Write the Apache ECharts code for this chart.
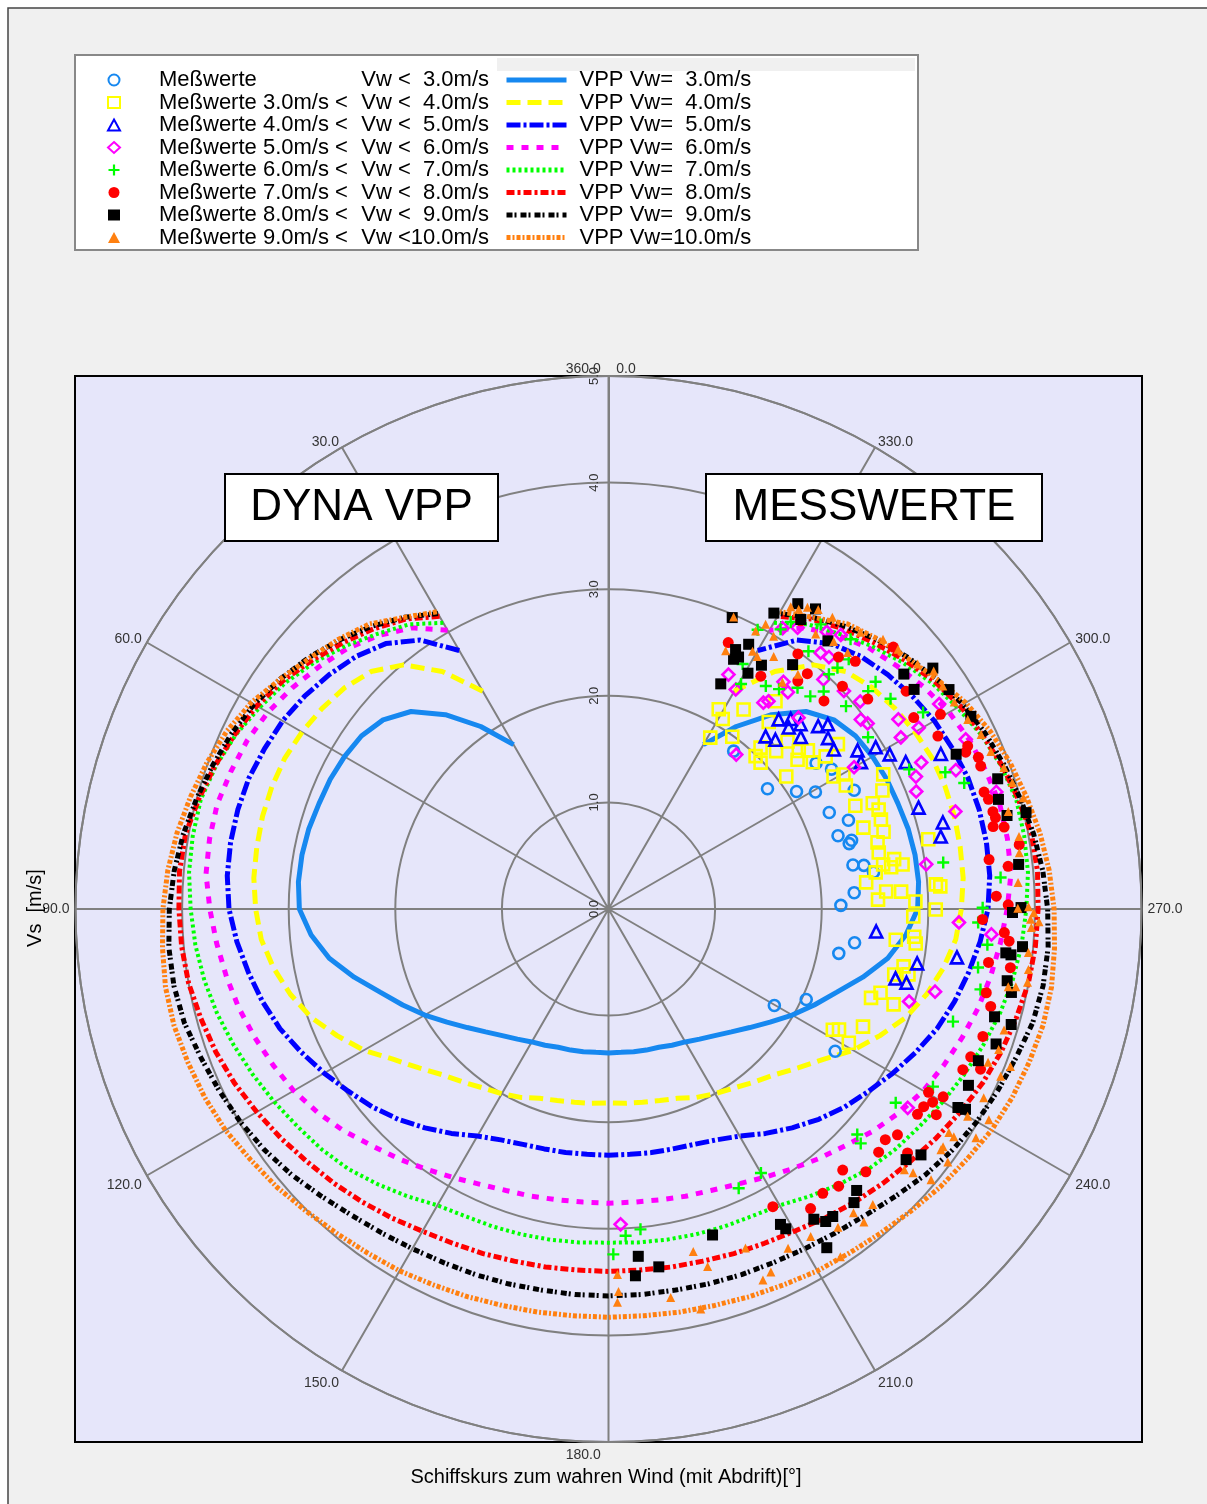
<!DOCTYPE html>
<html>
<head>
<meta charset="utf-8">
<title>Polardiagramm DYNA VPP / Messwerte</title>
<script src="https://cdn.jsdelivr.net/npm/echarts@6/dist/echarts.min.js"></script>
<style>
  html, body { margin: 0; padding: 0; background: #fff; }
  #chart { width: 1207px; height: 1504px; }
</style>
</head>
<body>
<div id="chart"></div>
<script>
// Polar plot: boat speed Vs [m/s] over true wind angle [deg]
var chart = echarts.init(document.getElementById('chart'));
var FONT = '"Liberation Sans", Arial, sans-serif';

// angle ticks / radius ticks
var angleTicks = [0, 30, 60, 90, 120, 150, 180, 210, 240, 270, 300, 330, 360];
var radiusTicks = [0, 1, 2, 3, 4, 5];

// VPP curves, sampled every 5 deg from 30 to 330 deg
var angles = [30,35,40,45,50,55,60,65,70,75,80,85,90,95,100,105,110,115,120,125,130,135,140,145,150,155,160,165,170,175,180,
  185,190,195,200,205,210,215,220,225,230,235,240,245,250,255,260,265,270,275,280,285,290,295,300,305,310,315,320,325,330];

var vpp3 = [1.78,2.09,2.38,2.62,2.76,2.83,2.86,2.88,2.89,2.91,2.92,2.92,2.90,2.80,2.66,2.47,2.28,2.13,1.99,1.85,1.73,1.63,1.55,1.49,1.44,1.41,1.38,1.37,1.36,1.35,1.35,
  1.35,1.36,1.37,1.38,1.41,1.44,1.49,1.55,1.63,1.73,1.85,1.99,2.13,2.28,2.47,2.66,2.80,2.90,2.92,2.92,2.91,2.89,2.88,2.86,2.83,2.76,2.62,2.38,2.09,1.78];
var vpp4 = [2.36,2.72,2.99,3.15,3.23,3.28,3.32,3.35,3.36,3.36,3.35,3.34,3.31,3.27,3.19,3.09,2.97,2.81,2.65,2.46,2.32,2.20,2.12,2.05,2.00,1.95,1.89,1.86,1.84,1.83,1.82,
  1.83,1.84,1.86,1.89,1.95,2.00,2.05,2.12,2.20,2.32,2.46,2.65,2.81,2.97,3.09,3.19,3.27,3.31,3.34,3.35,3.36,3.36,3.35,3.32,3.28,3.23,3.15,2.99,2.72,2.36];
var vpp5 = [2.80,3.08,3.25,3.35,3.42,3.48,3.53,3.56,3.59,3.60,3.60,3.59,3.56,3.50,3.43,3.36,3.28,3.18,3.08,2.98,2.89,2.79,2.68,2.57,2.46,2.39,2.35,2.33,2.32,2.31,2.31,
  2.31,2.32,2.33,2.35,2.39,2.46,2.57,2.68,2.79,2.89,2.98,3.08,3.18,3.28,3.36,3.43,3.50,3.56,3.59,3.60,3.60,3.59,3.56,3.53,3.48,3.42,3.35,3.25,3.08,2.80];
var vpp6 = [3.02,3.22,3.35,3.46,3.54,3.62,3.69,3.74,3.77,3.80,3.80,3.79,3.74,3.69,3.64,3.59,3.53,3.47,3.41,3.33,3.24,3.14,3.06,2.98,2.91,2.85,2.81,2.79,2.77,2.76,2.76,
  2.76,2.77,2.79,2.81,2.85,2.91,2.98,3.06,3.14,3.24,3.33,3.41,3.47,3.53,3.59,3.64,3.69,3.74,3.79,3.80,3.80,3.77,3.74,3.69,3.62,3.54,3.46,3.35,3.22,3.02];
var vpp7 = [3.10,3.26,3.37,3.49,3.60,3.70,3.78,3.86,3.92,3.96,3.96,3.95,3.92,3.89,3.85,3.80,3.74,3.68,3.62,3.56,3.51,3.45,3.37,3.29,3.21,3.18,3.17,3.16,3.15,3.14,3.13,
  3.14,3.15,3.16,3.17,3.18,3.21,3.29,3.37,3.45,3.51,3.56,3.62,3.68,3.74,3.80,3.85,3.89,3.92,3.95,3.96,3.96,3.92,3.86,3.78,3.70,3.60,3.49,3.37,3.26,3.10];
var vpp8 = [3.17,3.32,3.43,3.53,3.63,3.73,3.81,3.87,3.93,3.98,4.03,4.04,4.03,4.02,4.00,3.96,3.92,3.87,3.81,3.75,3.69,3.64,3.59,3.54,3.49,3.46,3.44,3.42,3.41,3.40,3.40,
  3.40,3.41,3.42,3.44,3.46,3.49,3.54,3.59,3.64,3.69,3.75,3.81,3.87,3.92,3.96,4.00,4.02,4.03,4.04,4.03,3.98,3.93,3.87,3.81,3.73,3.63,3.53,3.43,3.32,3.17];
var vpp9 = [3.20,3.34,3.46,3.57,3.67,3.76,3.84,3.90,3.95,4.00,4.05,4.09,4.12,4.14,4.14,4.12,4.07,4.03,3.99,3.94,3.88,3.81,3.75,3.71,3.68,3.66,3.65,3.64,3.63,3.63,3.63,
  3.63,3.63,3.64,3.65,3.66,3.68,3.71,3.75,3.81,3.88,3.94,3.99,4.03,4.07,4.12,4.14,4.14,4.12,4.09,4.05,4.00,3.95,3.90,3.84,3.76,3.67,3.57,3.46,3.34,3.20];
var vpp10 = [3.22,3.34,3.49,3.58,3.66,3.76,3.87,3.95,4.01,4.06,4.11,4.15,4.18,4.20,4.22,4.22,4.20,4.18,4.15,4.10,4.06,4.01,3.97,3.94,3.92,3.89,3.87,3.85,3.84,3.83,3.83,
  3.83,3.84,3.85,3.87,3.89,3.92,3.94,3.97,4.01,4.06,4.10,4.15,4.18,4.20,4.22,4.22,4.20,4.18,4.15,4.11,4.06,4.01,3.95,3.87,3.76,3.66,3.58,3.49,3.34,3.22];

// measured points [Vs m/s, angle deg]
var meas3 = [[1.89,321.6],[1.87,307.1],[2.08,302.0],[2.23,299.5],[2.38,305.1],[2.47,302.1],[2.56,295.8],[2.26,293.6],[2.40,290.3],[2.26,287.7],[2.37,285.8],
  [2.34,285.2],[2.33,280.2],[2.43,279.7],[2.51,277.9],[2.31,273.8],[2.18,270.9],[2.33,262.2],[2.20,259.1],[1.80,239.8],[2.04,245.4],[2.51,237.9]];
var meas4 = [[2.14,331.1],[2.08,329.0],[2.26,325.9],[1.87,329.3],[1.99,324.3],[2.50,321.2],[2.31,319.4],[2.30,313.1],[2.08,316.7],[1.99,316.1],[1.98,313.9],
  [2.16,313.3],[2.32,309.7],[2.39,308.5],[2.26,308.3],[2.08,306.7],[2.36,305.7],[2.49,305.1],[2.65,305.7],[2.45,300.5],[2.54,299.8],[2.51,297.5],[2.51,292.7],
  [2.67,291.8],[2.70,290.2],[2.69,288.2],[2.87,296.1],[2.80,293.4],[2.51,287.7],[2.68,285.7],[2.60,283.9],[2.59,281.8],[2.61,279.2],[2.72,279.9],[2.79,278.6],
  [2.53,277.8],[2.68,278.4],[2.43,275.9],[2.61,273.6],[2.75,273.4],[2.53,272.0],[3.07,282.3],[3.08,274.3],[3.12,273.9],[3.07,269.9],[2.88,271.4],[2.86,268.6],
  [2.71,263.9],[2.88,264.8],[2.90,263.6],[2.82,259.0],[2.75,257.1],[2.88,257.7],[2.60,251.3],[2.67,252.9],[2.82,251.5],[2.39,241.7],[2.44,242.4],[2.63,245.2],[2.58,240.9]];
var meas5 = [[2.39,318.1],[2.47,316.2],[2.50,313.9],[2.40,315.2],[2.61,311.1],[2.69,310.1],[2.19,317.7],[2.23,315.4],[2.42,311.8],[2.61,307.9],[2.59,305.3],
  [2.77,302.5],[2.93,301.2],[3.01,298.8],[2.74,300.2],[3.11,296.3],[3.44,295.0],[3.06,288.1],[3.24,284.5],[3.19,282.3],[2.52,265.2],[2.94,260.0],[3.30,262.1],
  [2.77,256.4],[2.88,256.1]];
var meas6 = [[3.10,328.2],[3.18,326.1],[3.31,321.8],[3.37,319.7],[2.47,332.9],[2.38,329.9],[2.42,323.1],[2.46,322.4],[2.64,320.4],[2.69,322.4],[3.12,320.4],
  [3.14,318.8],[2.95,316.9],[3.01,312.8],[3.06,309.5],[2.53,315.2],[2.96,306.9],[2.99,305.6],[3.18,300.4],[3.37,300.3],[2.66,300.0],[3.14,293.3],[3.24,295.1],
  [3.09,290.9],[3.51,291.8],[1.88,320.4],[3.38,285.7],[3.01,278.0],[3.29,267.8],[3.60,266.2],[3.16,255.8],[2.95,252.9],[3.37,236.4],[2.96,182.2],[3.65,301.8],
  [3.71,295.4],[3.80,286.8],[3.25,303.2]];
var meas7 = [[2.62,331.3],[2.56,324.8],[2.61,322.2],[2.73,319.5],[2.75,316.5],[2.87,315.3],[2.93,310.5],[3.12,316.5],[3.06,322.2],[3.19,327.6],[3.08,328.4],
  [2.97,331.9],[2.45,329.5],[3.02,316.8],[3.25,316.1],[3.18,310.0],[3.29,310.4],[3.30,306.7],[2.92,303.5],[3.11,294.9],[3.41,292.1],[3.54,289.5],[3.48,302.0],
  [3.17,277.9],[3.69,274.6],[3.51,270.2],[3.47,267.9],[3.51,261.0],[3.57,257.8],[3.40,251.9],[3.47,241.3],[3.25,236.0],[3.15,227.8],[3.23,227.1],[2.86,210.0],
  [2.89,205.0],[3.02,185.7],[3.07,183.0],[3.24,180.8],[3.57,264.6],[3.33,323.3],[3.40,318.1]];
var meas8 = [[2.74,335.8],[2.98,323.4],[2.78,320.3],[2.89,319.8],[3.20,317.6],[3.28,315.1],[3.03,313.6],[2.81,314.0],[3.13,309.0],[2.61,326.8],[3.25,326.3],
  [3.63,312.6],[3.46,306.2],[3.38,302.1],[3.49,297.7],[3.61,300.4],[3.70,294.4],[3.75,292.3],[3.74,291.0],[3.69,287.3],[3.71,286.1],[3.72,284.2],[3.73,283.3],
  [3.69,282.1],[3.79,281.7],[3.90,278.9],[3.60,277.4],[3.77,276.1],[3.64,271.9],[3.75,270.6],[3.51,268.4],[3.72,266.6],[3.77,265.4],[3.60,262.0],[3.81,261.7],
  [3.63,257.5],[3.70,255.7],[3.71,251.2],[3.67,247.8],[3.80,246.7],[3.65,245.6],[3.46,240.2],[3.54,239.2],[3.49,237.9],[3.48,236.4],[3.63,237.9],[3.60,240.7],
  [3.44,232.0],[3.38,230.2],[3.41,228.0],[3.62,230.8],[3.45,224.4],[3.29,221.9],[3.38,219.7],[3.34,217.0],[3.39,214.0],[3.19,208.9],[3.66,293.7]];
var meas9 = [[3.37,328.2],[3.18,330.8],[2.97,337.0],[2.71,333.9],[2.62,333.4],[2.66,332.7],[2.81,332.1],[2.36,333.5],[2.57,329.4],[2.70,327.9],[2.87,323.0],
  [3.42,325.4],[3.25,320.7],[3.26,326.4],[3.79,306.6],[3.80,302.8],[3.85,298.0],[3.57,294.0],[3.85,288.5],[3.80,285.7],[3.84,283.2],[4.02,283.0],[3.53,305.7],
  [3.54,308.5],[3.87,276.2],[3.79,269.5],[3.87,270.2],[3.75,263.7],[3.80,263.5],[3.90,264.8],[3.80,259.8],[3.86,258.3],[3.76,254.4],[3.93,254.0],[3.85,250.8],
  [3.75,247.7],[3.76,243.9],[3.77,240.4],[3.84,240.7],[3.65,229.9],[3.73,231.8],[3.52,221.4],[3.59,219.9],[3.57,216.1],[3.57,214.8],[3.49,213.5],[3.78,212.8],
  [3.37,208.6],[3.43,209.0],[3.21,197.7],[3.27,184.9],[3.39,188.0],[3.45,184.2]];
var meas10 = [[2.98,336.8],[3.31,328.9],[3.33,327.6],[3.39,326.6],[3.43,325.0],[3.05,331.1],[2.95,332.1],[2.66,335.6],[2.77,330.8],[2.75,329.5],[2.99,328.8],
  [2.83,326.8],[2.68,322.5],[2.83,321.1],[3.45,322.5],[3.23,323.0],[3.28,319.9],[3.29,317.0],[3.70,308.4],[3.78,306.2],[3.77,303.7],[3.78,300.9],[3.81,297.8],
  [3.86,295.1],[3.88,292.4],[3.94,289.7],[3.97,287.4],[4.03,285.0],[3.61,314.5],[3.65,311.9],[3.51,317.7],[3.86,283.7],[3.91,280.0],[3.89,277.8],[3.85,273.7],
  [3.94,270.3],[3.99,269.5],[3.84,270.1],[3.96,268.6],[3.97,267.5],[4.04,268.3],[3.96,264.1],[3.98,261.8],[3.82,259.0],[3.89,259.2],[3.99,260.1],[3.88,253.0],
  [3.89,250.2],[3.84,248.0],[4.05,248.6],[4.00,246.9],[3.94,243.3],[4.08,241.0],[3.89,240.0],[3.82,236.7],[3.85,234.6],[3.88,236.6],[4.06,238.1],[3.85,234.1],
  [3.97,233.3],[3.70,228.6],[3.78,229.1],[3.95,230.0],[3.72,221.8],[3.66,218.9],[3.79,219.2],[3.68,215.8],[3.61,211.7],[3.60,207.9],[3.73,204.1],[3.77,202.6],
  [3.92,213.7],[3.43,202.0],[3.31,193.9],[3.48,195.5],[3.69,189.1],[3.43,181.4],[3.59,181.5],[3.69,181.3],[3.85,193.0]];

var vppNames = ['VPP Vw=  3.0m/s', 'VPP Vw=  4.0m/s', 'VPP Vw=  5.0m/s', 'VPP Vw=  6.0m/s',
  'VPP Vw=  7.0m/s', 'VPP Vw=  8.0m/s', 'VPP Vw=  9.0m/s', 'VPP Vw=10.0m/s'];
var measNames = ['Meßwerte Vw <  3.0m/s', 'Meßwerte 3.0m/s < Vw <  4.0m/s', 'Meßwerte 4.0m/s < Vw <  5.0m/s',
  'Meßwerte 5.0m/s < Vw <  6.0m/s', 'Meßwerte 6.0m/s < Vw <  7.0m/s', 'Meßwerte 7.0m/s < Vw <  8.0m/s',
  'Meßwerte 8.0m/s < Vw <  9.0m/s', 'Meßwerte 9.0m/s < Vw <10.0m/s'];

var colors = ['#1688f0', '#ffff00', '#0000ff', '#ff00ff', '#00ff00', '#ff0000', '#000000', '#ff8010'];

// line styles of the VPP curves
var vppDash = ['solid', [14, 7], [14, 3, 3, 3], [7, 8], [3, 3], [8, 3, 3, 3], [6, 2, 2, 4], [4, 2, 2, 2]];
var vppWidth = [5, 5, 5, 5, 4, 5, 5, 5];

// marker styles of the measured points
var plusPath = 'path://M4,0h2v4h4v2h-4v4h-2v-4h-4v-2h4z';
var measSymbols = ['circle', 'rect', 'triangle', 'diamond', plusPath, 'circle', 'rect', 'triangle'];
var measSizes = [11, 12, 12, 12, 12, 11, 11, 9];
var measFilled = [false, false, false, false, true, true, true, true];

var vppCurves = [vpp3, vpp4, vpp5, vpp6, vpp7, vpp8, vpp9, vpp10];
var measData = [meas3, meas4, meas5, meas6, meas7, meas8, meas9, meas10];

var series = [];
vppCurves.forEach(function (curve, i) {
  series.push({
    name: vppNames[i],
    type: 'line',
    coordinateSystem: 'polar',
    data: curve.map(function (r, j) { return [r, angles[j]]; }),
    symbol: 'none',
    z: 3,
    lineStyle: { color: colors[i], width: vppWidth[i], type: vppDash[i], cap: 'butt' },
    itemStyle: { color: colors[i] }
  });
});
measData.forEach(function (pts, i) {
  series.push({
    name: measNames[i],
    type: 'scatter',
    coordinateSystem: 'polar',
    data: pts,
    symbol: measSymbols[i],
    symbolSize: measSizes[i],
    z: 4,
    itemStyle: measFilled[i]
      ? { color: colors[i], opacity: 1 }
      : { color: 'rgba(0,0,0,0)', borderColor: colors[i], borderWidth: 2.6, opacity: 1 }
  });
});

// labels on the upper half of the circle are centred on their anchor
var upperAngles = [0, 30, 60, 300, 330];

var option = {
  backgroundColor: '#ffffff',
  animation: false,
  textStyle: { fontFamily: FONT },
  polar: { center: [608.5, 909], radius: 533 },
  angleAxis: {
    type: 'value',
    min: angleTicks[0],
    max: angleTicks[angleTicks.length - 1],
    interval: 30,
    startAngle: 90,
    clockwise: false,
    axisLine: { lineStyle: { color: '#808080', width: 2 } },
    axisTick: { show: false },
    splitLine: { show: true, lineStyle: { color: '#808080', width: 2 } },
    axisLabel: {
      margin: 6,
      fontSize: 14,
      color: '#333',
      fontFamily: FONT,
      formatter: function (v) {
        var txt;
        if (v === 360) return '';
        if (v === 0) txt = '360.0    0.0    ';        // 0 and 360 share the top position
        else if (v === 180) txt = '180.0             '; // sits left of the spoke
        else txt = v.toFixed(1);
        return upperAngles.indexOf(v) >= 0 ? '{u|' + txt + '}' : txt;
      },
      rich: {
        u: { lineHeight: 1, fontSize: 14, color: '#333', fontFamily: FONT }
      }
    }
  },
  radiusAxis: {
    type: 'value',
    min: radiusTicks[0],
    max: radiusTicks[radiusTicks.length - 1],
    interval: 1,
    axisLine: { show: true, lineStyle: { color: '#808080', width: 2 } },
    axisTick: { show: false },
    splitLine: { show: true, lineStyle: { color: '#808080', width: 2 } },
    axisLabel: {
      rotate: 90,
      fontSize: 13,
      color: '#333',
      fontFamily: FONT,
      formatter: function (v) { return v.toFixed(1); }
    }
  },
  legend: [{
    data: measNames,
    orient: 'vertical',
    left: 107,
    top: 69,
    padding: 0,
    itemWidth: 12,
    itemHeight: 11,
    itemGap: 0.5,
    selectedMode: false,
    formatter: function (name) {
      var k = name.indexOf('Vw');
      return '{s|}{a|' + name.slice(0, k) + '}{b|' + name.slice(k) + '}';
    },
    textStyle: {
      fontFamily: FONT, fontSize: 22, color: '#000',
      rich: {
        s: { width: 34 },
        a: { width: 199, fontSize: 22, fontFamily: FONT },
        b: { width: 131, align: 'right', fontSize: 22, fontFamily: FONT }
      }
    }
  }, {
    data: vppNames,
    orient: 'vertical',
    left: 504,
    top: 69,
    padding: 0,
    itemWidth: 60,
    itemHeight: 14,
    itemGap: 0.5,
    selectedMode: false,
    itemStyle: { opacity: 0 },
    lineStyle: { width: 5 },
    formatter: function (name) { return '{s|}{a|' + name + '}'; },
    textStyle: {
      fontFamily: FONT, fontSize: 22, color: '#000',
      rich: { s: { width: 8 }, a: { fontSize: 22, fontFamily: FONT } }
    }
  }],
  graphic: [
    { type: 'rect', z: -100, shape: { x: 8, y: 8, width: 1260, height: 1560 },
      style: { fill: '#f0f0f0', stroke: '#444', lineWidth: 1.5 } },
    { type: 'rect', z: -90, shape: { x: 75, y: 376, width: 1067, height: 1066 },
      style: { fill: '#e6e6fa', stroke: '#000', lineWidth: 2 } },
    { type: 'rect', z: -90, shape: { x: 75, y: 55, width: 843, height: 195 },
      style: { fill: '#ffffff', stroke: '#888', lineWidth: 2 } },
    { type: 'rect', z: -89, shape: { x: 497, y: 58, width: 418, height: 13 },
      style: { fill: '#f0f0f0' } },
    { type: 'rect', z: 50, shape: { x: 225, y: 474, width: 273, height: 67 },
      style: { fill: '#ffffff', stroke: '#000', lineWidth: 2 } },
    { type: 'text', z: 51, x: 361.5, y: 508,
      style: { text: 'DYNA VPP', font: '44px ' + FONT, fill: '#000', align: 'center', verticalAlign: 'middle' } },
    { type: 'rect', z: 50, shape: { x: 706, y: 474, width: 336, height: 67 },
      style: { fill: '#ffffff', stroke: '#000', lineWidth: 2 } },
    { type: 'text', z: 51, x: 874, y: 508,
      style: { text: 'MESSWERTE', font: '44px ' + FONT, fill: '#000', align: 'center', verticalAlign: 'middle' } },
    { type: 'text', z: 51, x: 35, y: 908, rotation: Math.PI / 2,
      style: { text: 'Vs  [m/s]', font: '20px ' + FONT, fill: '#000', align: 'center', verticalAlign: 'middle' } },
    { type: 'text', z: 51, x: 606, y: 1477,
      style: { text: 'Schiffskurs zum wahren Wind (mit Abdrift)[°]', font: '20px ' + FONT, fill: '#000', align: 'center', verticalAlign: 'middle' } }
  ],
  series: series
};

chart.setOption(option);

window.addEventListener('resize', function () {
  chart.resize();
});
</script>
</body>
</html>
